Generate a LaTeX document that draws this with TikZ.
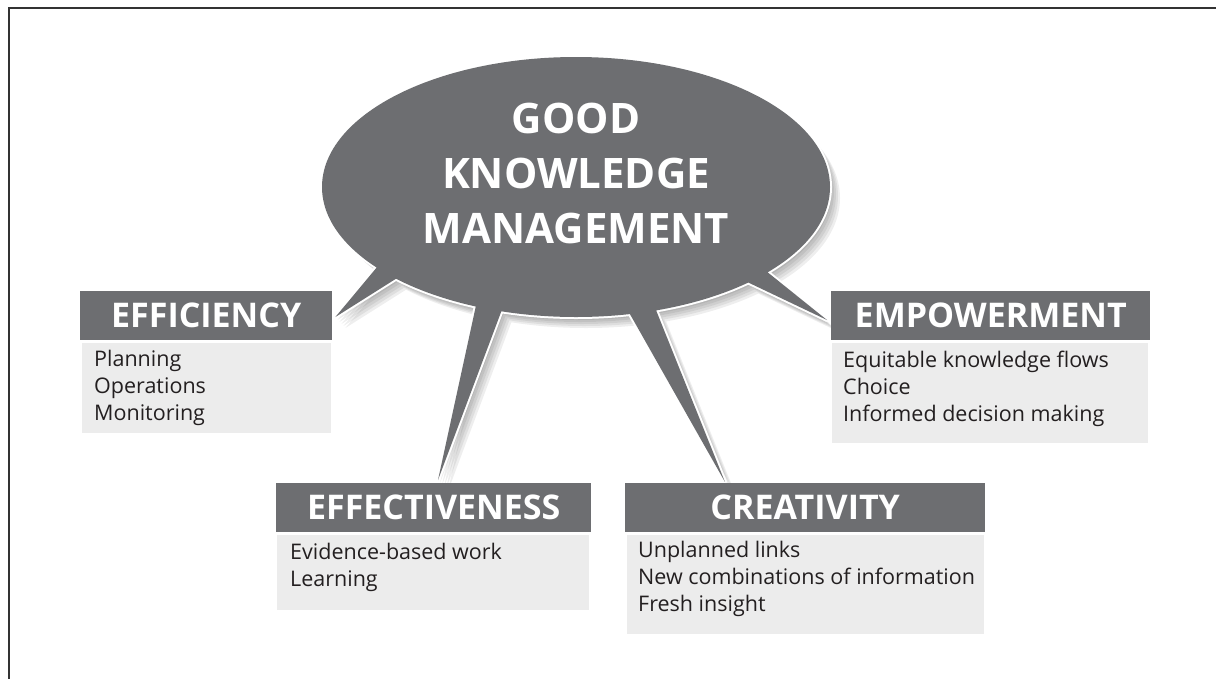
\documentclass[tikz,border=0pt]{standalone}
\usepackage{fontspec}
\setmainfont{Open Sans}
\usepackage{tikz}
\usetikzlibrary{positioning}
\usetikzlibrary{shapes.geometric}
\definecolor{kmgrey}{RGB}{109,110,113}
\definecolor{kmlight}{RGB}{236,236,236}
\definecolor{kmink}{RGB}{35,31,32}
\pgfdeclarelayer{balloonlayer}
\pgfsetlayers{balloonlayer,main}
\tikzset{softshadow/.style={preaction={fill=black, fill opacity=0.065,
      transform canvas={shift={(#1)}}}}}

\begin{document}
\begin{tikzpicture}[x=1pt, y=-1pt,
      balloon/.style={ellipse, minimum width=508pt, minimum height=260pt,
        inner sep=0pt, outer sep=0pt},
      kmtitle/.style={text=white, align=center, inner sep=0pt,
        font=\fontsize{42}{55}\selectfont\bfseries},
      headbox/.style={fill=kmgrey, text=white, inner sep=0pt,
        minimum height=49pt, anchor=north west,
        font=\fontsize{34}{34}\selectfont\bfseries},
      bodybox/.style={fill=kmlight, inner sep=0pt},
      items/.style={text=kmink, align=left, inner sep=0pt,
        font=\fontsize{21.5}{27}\selectfont}]

    \useasboundingbox (0,0) rectangle (1216,678);
    \draw[line width=2.2pt, black!80] (9,700) -- (9,8) -- (1230,8);

    \node[headbox, minimum width=252pt]
      (effhead) at (80,291) {EFFICIENCY};
    \node[headbox, minimum width=319pt]
      (emphead) at (831,291) {EMPOWERMENT};
    \node[headbox, minimum width=315pt]
      (effecthead) at (276,483) {EFFECTIVENESS};
    \node[headbox, minimum width=360pt]
      (creathead) at (625,483) {CREATIVITY};

    \node[balloon]
      (km) at (576,187) {};
    \coordinate (efftip) at ([shift={(3,26)}]effhead.north east);
    \coordinate (emptip) at ([shift={(-4,29)}]emphead.north west);
    \coordinate (effecttip) at ([shift={(162,-3)}]effecthead.north west);
    \coordinate (creattip) at ([shift={(100,-1)}]creathead.north west);

    % speech balloon with its four tails, kept behind the boxes
    \begin{pgfonlayer}{balloonlayer}
    \path[fill=kmgrey,
        softshadow={2pt,-3pt}, softshadow={4pt,-5pt}, softshadow={6pt,-7pt},
        softshadow={8pt,-9pt}, softshadow={10pt,-11pt},
        preaction={draw=white, line width=4pt, line join=round}]
      (km.center) ellipse [x radius=254pt, y radius=130pt]
      (km.202.6) -- (efftip) -- (km.207.6) -- cycle
      (km.230.2) -- (effecttip) -- (km.239.6) -- cycle
      (km.293.5) -- (creattip) -- (km.303.5) -- cycle
      (km.331.8) -- (emptip) -- (km.336.7) -- cycle;
    \end{pgfonlayer}
    \node[kmtitle]
      (kmlabel) at ([yshift=14pt]km.center) {GOOD\\KNOWLEDGE\\MANAGEMENT};

    \node[bodybox, minimum width=249pt, minimum height=90pt]
      (effbody) [below right=2pt and 2pt of effhead.south west] {};
    \node[bodybox, minimum width=316pt, minimum height=100pt]
      (empbody) [below right=2pt and 1pt of emphead.south west] {};
    \node[bodybox, minimum width=312pt, minimum height=75pt]
      (effectbody) [below right=2pt and 1pt of effecthead.south west] {};
    \node[bodybox, minimum width=357pt, minimum height=99pt]
      (creatbody) [below right=2pt and 2pt of creathead.south west] {};

    \node[items]
      (effitems) [below right=8pt and 12pt of effbody.north west]
      {Planning\\Operations\\Monitoring};
    \node[items]
      (empitems) [below right=8pt and 11pt of empbody.north west]
      {Equitable knowledge flows\\Choice\\Informed decision making};
    \node[items]
      (effectitems) [below right=9pt and 13pt of effectbody.north west]
      {Evidence-based work\\Learning};
    \node[items]
      (creatitems) [below right=7pt and 11pt of creatbody.north west]
      {Unplanned links\\New combinations of information\\Fresh insight};

  \end{tikzpicture}
\end{document}
